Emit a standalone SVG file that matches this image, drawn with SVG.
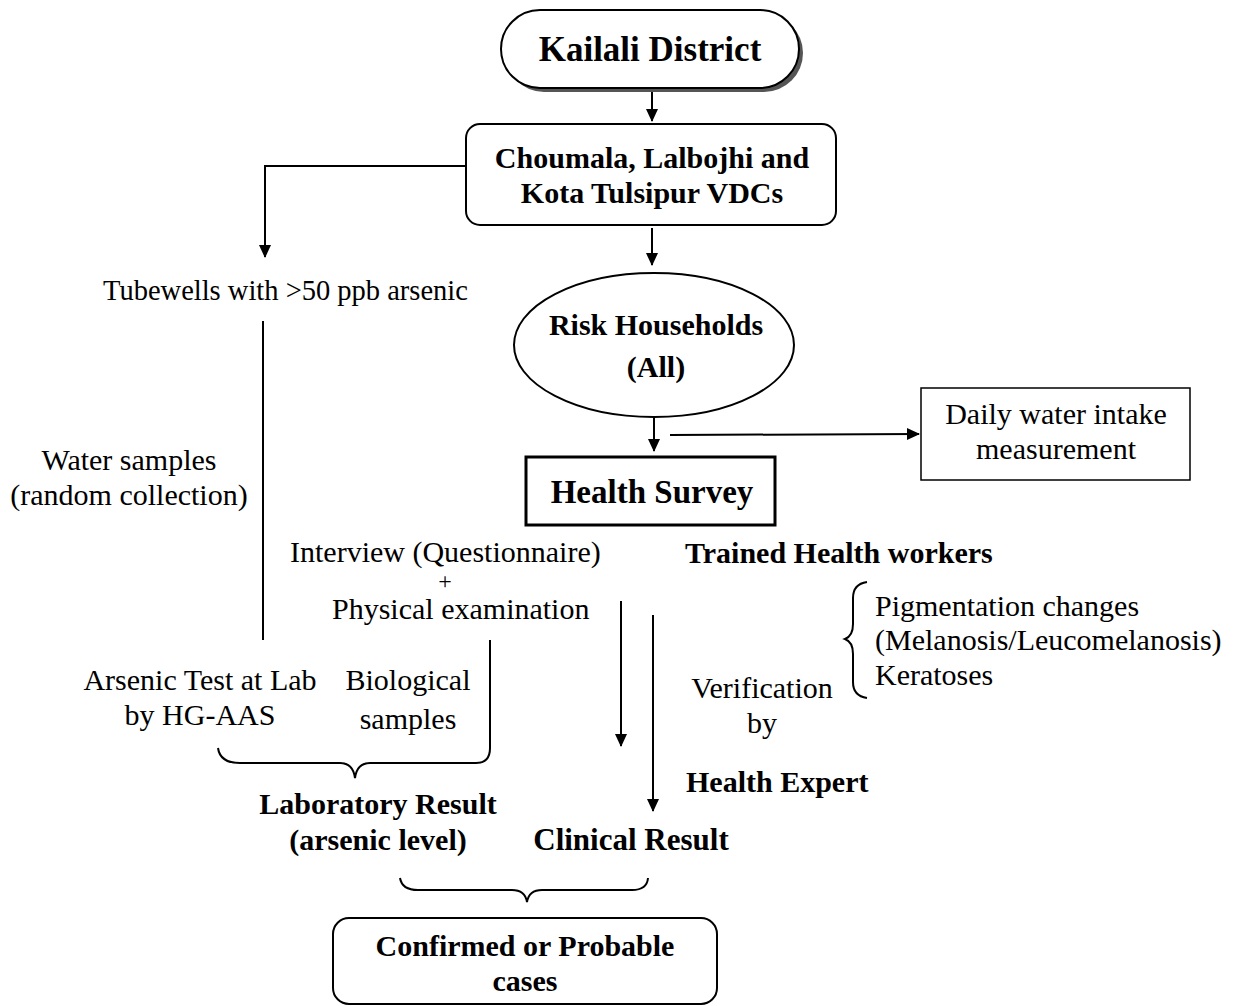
<svg xmlns="http://www.w3.org/2000/svg" width="1233" height="1006" viewBox="0 0 1233 1006">
<defs>
<marker id="ah" markerWidth="13" markerHeight="13" refX="12" refY="6.5" orient="auto" markerUnits="userSpaceOnUse">
<path d="M0,0.5 L13,6.5 L0,12.5 Z" fill="#000"/>
</marker>
<style>
text{font-family:"Liberation Serif","Times New Roman",serif;fill:#000}
.r{font-size:30px}
.b{font-size:30px;font-weight:bold}
.m{text-anchor:middle}
.ln{fill:none;stroke:#000;stroke-width:2}
.shape{fill:#fff;stroke:#000;stroke-width:2}
</style>
</defs>
<rect width="1233" height="1006" fill="#fff"/>

<g id="connectors">
<line class="ln" x1="652" y1="91" x2="652" y2="121" marker-end="url(#ah)"/>
<line class="ln" x1="652" y1="228" x2="652" y2="265" marker-end="url(#ah)"/>
<polyline class="ln" points="465,166 265,166 265,257" marker-end="url(#ah)"/>
<line class="ln" x1="263" y1="321" x2="263" y2="640"/>
<line class="ln" x1="654" y1="417" x2="654" y2="451" marker-end="url(#ah)"/>
<line class="ln" x1="670" y1="435" x2="919" y2="434" marker-end="url(#ah)"/>
<line class="ln" x1="621" y1="601" x2="621" y2="746" marker-end="url(#ah)"/>
<line class="ln" x1="653" y1="615" x2="653" y2="811" marker-end="url(#ah)"/>
<path class="ln" d="M218,748 Q220,763 240,763 L340,763 Q353,763 355,778 Q357,763 370,763 L476,763 Q490,763 490,748 L490,640"/>
<path class="ln" d="M400,878 Q402,890 418,890 L512,890 Q525,890 527,902 Q529,890 542,890 L632,890 Q647,890 648,878"/>
<path class="ln" d="M867,582 Q853,584 853,598 L853,624 Q853,636 845,639 Q853,642 853,654 L853,682 Q853,696 867,698"/>
</g>

<g id="kailali">
<rect x="505" y="14" width="298" height="78" rx="39" fill="#555"/>
<rect x="501" y="10" width="298" height="78" rx="39" class="shape"/>
<text x="650" y="61" class="m" style="font-size:35px;font-weight:bold">Kailali District</text>
</g>

<g id="vdcs">
<rect x="466" y="124" width="370" height="101" rx="14" class="shape"/>
<text x="652" y="168" class="b m">Choumala, Lalbojhi and</text>
<text x="652" y="203" class="b m">Kota Tulsipur VDCs</text>
</g>

<g id="tubewells">
<text x="103" y="300" class="r" style="font-size:28.5px">Tubewells with &gt;50 ppb arsenic</text>
</g>

<g id="water-samples">
<text x="129" y="470" class="r m">Water samples</text>
<text x="129" y="505" class="r m">(random collection)</text>
</g>

<g id="risk">
<ellipse cx="654" cy="345" rx="140" ry="72" class="shape"/>
<text x="656" y="335" class="b m">Risk Households</text>
<text x="656" y="377" class="b m">(All)</text>
</g>

<g id="daily-water">
<rect x="921" y="388" width="269" height="92" fill="#fff" stroke="#000" stroke-width="1.5"/>
<text x="1056" y="424" class="r m">Daily water intake</text>
<text x="1056" y="459" class="r m">measurement</text>
</g>

<g id="health-survey">
<rect x="526" y="457" width="249" height="68" fill="#fff" stroke="#000" stroke-width="3"/>
<text x="652" y="503" class="m" style="font-size:33px;font-weight:bold">Health Survey</text>
</g>

<g id="interview">
<text x="290" y="562" class="r">Interview (Questionnaire)</text>
<text x="445" y="589" class="r m" style="font-size:24px">+</text>
<text x="332" y="619" class="r">Physical examination</text>
</g>

<g id="trained">
<text x="685" y="563" class="b">Trained Health workers</text>
</g>

<g id="symptoms">
<text x="875" y="616" class="r">Pigmentation changes</text>
<text x="875" y="650" class="r">(Melanosis/Leucomelanosis)</text>
<text x="875" y="685" class="r">Keratoses</text>
</g>

<g id="verification">
<text x="762" y="698" class="r m">Verification</text>
<text x="762" y="733" class="r m">by</text>
</g>

<g id="health-expert">
<text x="686" y="792" class="b">Health Expert</text>
</g>

<g id="arsenic-test">
<text x="200" y="690" class="r m">Arsenic Test at Lab</text>
<text x="200" y="725" class="r m">by HG-AAS</text>
</g>

<g id="biological">
<text x="408" y="690" class="r m">Biological</text>
<text x="408" y="729" class="r m">samples</text>
</g>

<g id="lab-result">
<text x="378" y="814" class="b m">Laboratory Result</text>
<text x="378" y="850" class="b m">(arsenic level)</text>
</g>

<g id="clinical-result">
<text x="631" y="850" class="b m" style="font-size:31px">Clinical Result</text>
</g>

<g id="confirmed">
<rect x="333" y="918" width="384" height="86" rx="16" class="shape"/>
<text x="525" y="956" class="b m">Confirmed or Probable</text>
<text x="525" y="991" class="b m">cases</text>
</g>
</svg>
